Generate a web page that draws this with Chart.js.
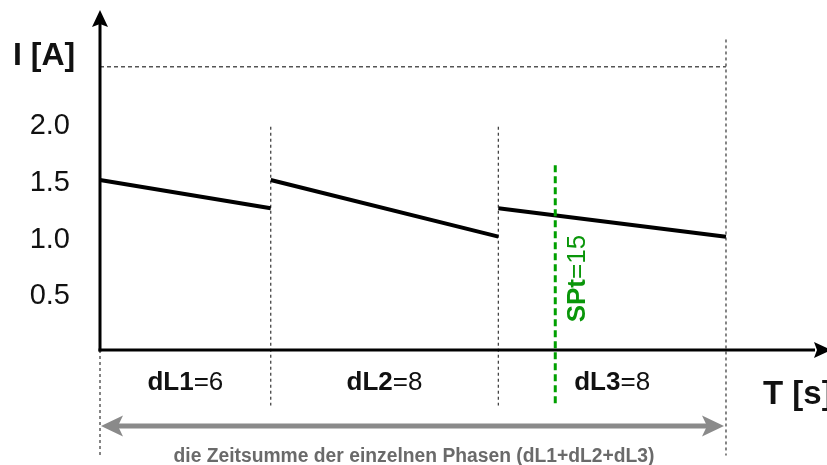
<!DOCTYPE html>
<html><head><meta charset="utf-8">
<script src="https://cdn.jsdelivr.net/npm/chart.js@4.4.1/dist/chart.umd.min.js"></script>
<style>html,body{margin:0;padding:0;background:#fff}canvas{display:block}</style>
</head><body>
<canvas id="c" width="827" height="465"></canvas>
<script>
// ---- data ----
const phaseNames = ['dL1', 'dL2', 'dL3'];
const phaseDurations = [6, 8, 8];
const segmentStartCurrent = [1.5, 1.5, 1.25];
const segmentEndCurrent = [1.25, 1.0, 1.0];
const yTickValues = [0.5, 1.0, 1.5, 2.0];
const referenceLevel = 2.5;
const sptPosition = 16;
const sptName = 'SPt';
const sptValue = 15;
const sptRange = [1.63, -0.5];
const boundaryTops = [0, 1.97, 1.97, 2.74];
const boundaryBottoms = [-0.93, -0.49, -0.49, -0.93];
const xMax = 25.55;
const yMax = 3.0;
const yLabel = 'I [A]';
const xLabel = 'T [s]';
const sumLabel = 'die Zeitsumme der einzelnen Phasen (dL1+dL2+dL3)';

const FONT = '"Liberation Sans", Arial, sans-serif';

// cumulative boundaries
const boundaries = [0];
phaseDurations.forEach(d => boundaries.push(boundaries[boundaries.length - 1] + d));
const total = boundaries[boundaries.length - 1];

const datasets = [];
datasets.push({
  data: [{x: sptPosition, y: sptRange[0]}, {x: sptPosition, y: sptRange[1]}],
  borderColor: '#00a000', borderWidth: 3, borderDash: [7, 4], clip: false, pointRadius: 0
});
phaseDurations.forEach((d, i) => {
  datasets.push({
    data: [{x: boundaries[i], y: segmentStartCurrent[i]}, {x: boundaries[i + 1], y: segmentEndCurrent[i]}],
    borderColor: '#000', borderWidth: 4, pointRadius: 0, clip: false, borderCapStyle: 'butt'
  });
});
datasets.push({
  data: [{x: 0, y: referenceLevel}, {x: total, y: referenceLevel}],
  borderColor: '#555', borderWidth: 1.5, borderDash: [4, 3], pointRadius: 0, clip: false
});
boundaries.forEach((b, i) => {
  datasets.push({
    data: [{x: b, y: boundaryTops[i]}, {x: b, y: boundaryBottoms[i]}],
    borderColor: '#444', borderWidth: 1.3, borderDash: [3, 3], pointRadius: 0, clip: false
  });
});

function drawMixed(ctx, parts, cx, cy, size) {
  let w = 0;
  parts.forEach(p => { ctx.font = (p.bold ? 'bold ' : '') + size + 'px ' + FONT; w += ctx.measureText(p.t).width; });
  let x = cx - w / 2;
  ctx.textAlign = 'left';
  ctx.textBaseline = 'middle';
  parts.forEach(p => {
    ctx.font = (p.bold ? 'bold ' : '') + size + 'px ' + FONT;
    ctx.fillText(p.t, x, cy);
    x += ctx.measureText(p.t).width;
  });
}

const decor = {
  id: 'decor',
  afterDraw(chart) {
    const ctx = chart.ctx;
    const xs = chart.scales.x, ys = chart.scales.y;
    const X = v => xs.getPixelForValue(v), Y = v => ys.getPixelForValue(v);
    const ax = X(0), ay = Y(0);
    ctx.save();
    ctx.strokeStyle = '#000'; ctx.fillStyle = '#000'; ctx.lineWidth = 3;
    ctx.beginPath(); ctx.moveTo(ax, ay + 1.5); ctx.lineTo(ax, Y(yMax) + 14); ctx.stroke();
    ctx.beginPath(); ctx.moveTo(ax - 1.5, ay); ctx.lineTo(chart.width - 12, ay); ctx.stroke();
    const ty = Y(yMax);
    ctx.beginPath(); ctx.moveTo(ax, ty); ctx.lineTo(ax + 8, ty + 17); ctx.lineTo(ax, ty + 14); ctx.lineTo(ax - 8, ty + 17); ctx.closePath(); ctx.fill();
    const tx = X(xMax) + 4;
    ctx.beginPath(); ctx.moveTo(tx, ay); ctx.lineTo(tx - 17, ay - 8); ctx.lineTo(tx - 14, ay); ctx.lineTo(tx - 17, ay + 8); ctx.closePath(); ctx.fill();

    ctx.fillStyle = '#111';
    ctx.font = 'bold 32px ' + FONT; ctx.textAlign = 'left'; ctx.textBaseline = 'middle';
    ctx.fillText(yLabel, ax - 87, Y(2.59));
    ctx.font = 'bold 33px ' + FONT;
    ctx.fillText(xLabel, X(23.3), Y(-0.4));

    phaseNames.forEach((n, i) => {
      const cx = X((boundaries[i] + boundaries[i + 1]) / 2);
      drawMixed(ctx, [{t: n, bold: true}, {t: '=' + phaseDurations[i], bold: false}], cx, Y(-0.29), 26);
    });

    ctx.save();
    ctx.translate(X(sptPosition) + 23, Y(0.63));
    ctx.rotate(-Math.PI / 2);
    ctx.fillStyle = '#0a960a';
    drawMixed(ctx, [{t: sptName, bold: true}, {t: '=' + sptValue, bold: false}], 0, 0, 26);
    ctx.restore();

    const gy = Y(-0.67), gx0 = X(0) + 1, gx1 = X(total) - 2;
    ctx.strokeStyle = '#8a8a8a'; ctx.fillStyle = '#8a8a8a'; ctx.lineWidth = 5;
    ctx.beginPath(); ctx.moveTo(gx0 + 15, gy); ctx.lineTo(gx1 - 15, gy); ctx.stroke();
    ctx.beginPath(); ctx.moveTo(gx0, gy); ctx.lineTo(gx0 + 22, gy - 10.5); ctx.lineTo(gx0 + 17, gy); ctx.lineTo(gx0 + 22, gy + 10.5); ctx.closePath(); ctx.fill();
    ctx.beginPath(); ctx.moveTo(gx1, gy); ctx.lineTo(gx1 - 22, gy - 10.5); ctx.lineTo(gx1 - 17, gy); ctx.lineTo(gx1 - 22, gy + 10.5); ctx.closePath(); ctx.fill();

    ctx.font = 'bold 20px ' + FONT;
    ctx.fillStyle = '#6a6a6a';
    ctx.textAlign = 'center'; ctx.textBaseline = 'alphabetic';
    const w = ctx.measureText(sumLabel).width;
    const target = 481;
    const cx = X(total / 2) + 1;
    ctx.save();
    ctx.translate(cx, Y(-0.99));
    ctx.scale(target / w, 1);
    ctx.fillText(sumLabel, 0, 0);
    ctx.restore();
    ctx.restore();
  }
};

new Chart(document.getElementById('c'), {
  type: 'line',
  data: {datasets},
  options: {
    responsive: false,
    animation: false,
    events: [],
    layout: {padding: {left: 0, right: 0, top: 10, bottom: 115}},
    plugins: {legend: {display: false}, tooltip: {enabled: false}},
    scales: {
      x: {type: 'linear', min: 0, max: xMax, display: false},
      y: {
        type: 'linear', min: 0, max: yMax,
        afterFit: s => { s.width = 100; s.paddingTop = 0; s.paddingBottom = 0; },
        afterBuildTicks: s => { s.ticks = yTickValues.map(v => ({value: v})); },
        grid: {display: false, drawTicks: false},
        border: {display: false},
        ticks: {
          padding: 30, color: '#111', labelOffset: 3,
          font: {size: 29, family: FONT},
          callback: v => Number(v).toFixed(1)
        }
      }
    }
  },
  plugins: [decor]
});
</script>
</body></html>
